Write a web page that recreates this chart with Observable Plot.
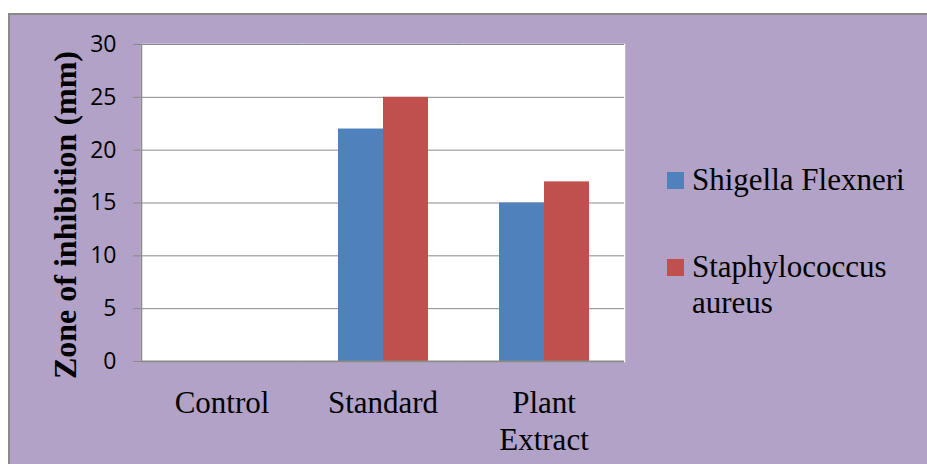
<!DOCTYPE html>
<html>
<head>
<meta charset="utf-8">
<script src="https://cdn.jsdelivr.net/npm/d3@7"></script>
<script src="https://cdn.jsdelivr.net/npm/@observablehq/plot@0.6"></script>
<style>
  html, body { margin: 0; padding: 0; }
  body { width: 927px; height: 464px; overflow: hidden; background: #ffffff; position: relative; color: #000; font-family: "Liberation Serif", "Times New Roman", serif; }
  #panel { position: absolute; left: 8px; top: 13px; width: 930px; height: 460px; background: #b2a2c7; border-left: 2px solid #8a8a8a; border-top: 2px solid #8a8a8a; }
  #chart { position: absolute; left: 0; top: 0; }
  #chart svg { overflow: visible; }
  g[aria-label="y-axis label"] text { font-family: "Liberation Serif", "Times New Roman", serif; font-weight: bold; font-size: 32px; }
  .swatch { position: absolute; width: 17px; height: 17px; }
  .legend-text { position: absolute; left: 692px; width: 228px; font-size: 31px; line-height: 36px; font-family: "Liberation Serif", "Times New Roman", serif; color: #000; }
</style>
</head>
<body>
<div id="panel"></div>
<div id="chart"></div>
<div id="legend"></div>
<script>
const categories = ["Control", "Standard", "Plant Extract"];
const seriesNames = ["Shigella Flexneri", "Staphylococcus aureus"];
const shigellaValues = [0, 22, 15];
const staphValues = [0, 25, 17];
const yTicks = [0, 5, 10, 15, 20, 25, 30];
const seriesColors = ["#4f81bd", "#c0504d"];

const data = categories.flatMap((c, i) => [
  {category: c, series: seriesNames[0], value: shigellaValues[i]},
  {category: c, series: seriesNames[1], value: staphValues[i]}
]);

const chart = Plot.plot({
  width: 640,
  height: 464,
  marginTop: 44,
  marginBottom: 103,
  marginLeft: 140,
  marginRight: 15,
  style: {background: "transparent", color: "#000"},
  fx: {domain: categories, padding: 0, label: null},
  x: {domain: seriesNames, axis: null, paddingInner: 0, paddingOuter: 0.78},
  y: {domain: [0, 30]},
  color: {domain: seriesNames, range: seriesColors},
  marks: [
    Plot.frame({fill: "white", stroke: "white", strokeWidth: 1.5}),
    Plot.gridY(yTicks, {stroke: "#8a8a8a", strokeOpacity: 1, strokeWidth: 1}),
    Plot.barY(data, {fx: "category", x: "series", y: "value", fill: "series"}),
    Plot.ruleY([0], {stroke: "#8a8a8a", strokeWidth: 2}),
    Plot.frame({anchor: "left", facetAnchor: "left", stroke: "#8a8a8a", strokeWidth: 1.5}),
    Plot.axisY(yTicks, {
      tickSize: 8, tickPadding: 17, stroke: "#8a8a8a", strokeOpacity: 1,
      fontSize: 23, fontFamily: "Open Sans",
      label: "Zone of inhibition (mm)", labelAnchor: "center", labelArrow: "none", labelOffset: 88
    }),
    Plot.axisFx({
      anchor: "bottom", tickSize: 0, tickPadding: 25, fontSize: 31,
      fontFamily: "Liberation Serif", lineHeight: 1.19, label: null,
      tickFormat: d => d.replace(" ", "\n")
    })
  ]
});
document.getElementById("chart").appendChild(chart);

// nudge the y-axis title down slightly, as in the reference
const labelG = chart.querySelector('g[aria-label="y-axis label"]');
if (labelG) labelG.setAttribute("transform", ((labelG.getAttribute("transform") || "") + " translate(0,12)").trim());

// Legend (HTML)
const legend = document.getElementById("legend");
const itemTops = [161.5, 248.5];
seriesNames.forEach((name, i) => {
  const sw = document.createElement("div");
  sw.className = "swatch";
  sw.style.left = "667px";
  sw.style.top = (itemTops[i] + 10.5) + "px";
  sw.style.background = seriesColors[i];
  legend.appendChild(sw);
  const t = document.createElement("div");
  t.className = "legend-text";
  t.style.top = itemTops[i] + "px";
  t.textContent = name;
  legend.appendChild(t);
});
</script>
</body>
</html>
